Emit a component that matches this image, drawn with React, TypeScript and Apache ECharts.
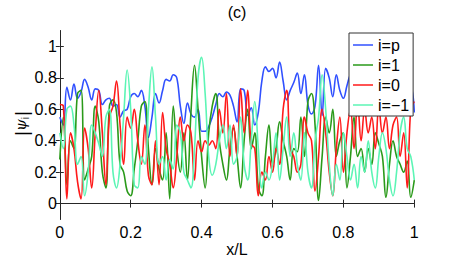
import React, { useEffect, useRef } from "react";
import * as echarts from "echarts";

const xSamples: number[] = Array.from({ length: 101 }, (_, i) => i / 100);

const psiP = [
  0.55, 0.5, 0.74, 0.66, 0.76, 0.67, 0.71, 0.79, 0.74, 0.66,
  0.73, 0.72, 0.63, 0.66, 0.67, 0.62, 0.63, 0.55, 0.59, 0.6,
  0.68, 0.7, 0.68, 0.72, 0.62, 0.42, 0.55, 0.7, 0.64, 0.72,
  0.79, 0.78, 0.82, 0.8, 0.62, 0.51, 0.64, 0.57, 0.55, 0.6,
  0.46, 0.46, 0.49, 0.55, 0.63, 0.7, 0.68, 0.71, 0.69, 0.62,
  0.52, 0.73, 0.72, 0.56, 0.61, 0.5, 0.58, 0.78, 0.87, 0.84,
  0.86, 0.8, 0.9, 0.78, 0.66, 0.72, 0.77, 0.83, 0.7, 0.82,
  0.63, 0.57, 0.62, 0.88, 0.56, 0.86, 0.8, 0.68, 0.82, 0.72,
  0.67, 0.75, 0.82, 0.7, 0.78, 0.8, 0.72, 0.78, 0.85, 0.75,
  0.72, 0.8, 0.76, 0.83, 0.74, 0.78, 0.84, 0.76, 0.72, 0.74,
  0.58,
];

const psi1 = [
  0.28, 0.55, 0.12, 0.4, 0.35, 0.7, 0.72, 0.15, 0.22, 0.3,
  0.62, 0.52, 0.2, 0.1, 0.62, 0.66, 0.58, 0.25, 0.2, 0.08,
  0.05, 0.22, 0.4, 0.62, 0.65, 0.35, 0.12, 0.35, 0.22, 0.15,
  0.45, 0.03, 0.62, 0.35, 0.2, 0.45, 0.15, 0.58, 0.88, 0.6,
  0.3, 0.1, 0.45, 0.62, 0.7, 0.4, 0.25, 0.15, 0.35, 0.48,
  0.3, 0.1, 0.4, 0.6, 0.35, 0.45, 0.1, 0.05, 0.3, 0.5,
  0.25, 0.35, 0.52, 0.4, 0.3, 0.15, 0.35, 0.33, 0.55, 0.3,
  0.65, 0.7, 0.5, 0.02, 0.3, 0.55, 0.45, 0.6, 0.3, 0.4,
  0.45, 0.1, 0.3, 0.55, 0.3, 0.35, 0.2, 0.35, 0.25, 0.45,
  0.38, 0.3, 0.04, 0.25, 0.4, 0.3, 0.25, 0.2, 0.27, 0.04,
  0.15,
];

const psi0 = [
  0.63, 0.62, 0.03, 0.45, 0.35, 0.14, 0.03, 0.48, 0.35, 0.1,
  0.45, 0.72, 0.45, 0.12, 0.55, 0.62, 0.78, 0.5, 0.25, 0.55,
  0.48, 0.6, 0.4, 0.25, 0.5, 0.18, 0.12, 0.4, 0.12, 0.58,
  0.35, 0.25, 0.1, 0.3, 0.55, 0.4, 0.5, 0.45, 0.15, 0.4,
  0.33, 0.4, 0.37, 0.4, 0.35, 0.6, 0.45, 0.7, 0.3, 0.5,
  0.3, 0.73, 0.45, 0.72, 0.38, 0.35, 0.05, 0.2, 0.15, 0.3,
  0.2, 0.35, 0.25, 0.6, 0.72, 0.35, 0.3, 0.2, 0.25, 0.55,
  0.45, 0.4, 0.08, 0.3, 0.6, 0.45, 0.2, 0.05, 0.35, 0.55,
  0.2, 0.45, 0.6, 0.35, 0.65, 0.4, 0.6, 0.45, 0.55, 0.35,
  0.62, 0.45, 0.55, 0.35, 0.5, 0.55, 0.3, 0.45, 0.1, 0.6,
  0.65,
];

const psiM1 = [
  0.45, 0.35, 0.6, 0.62, 0.5, 0.25, 0.3, 0.05, 0.2, 0.5,
  0.45, 0.38, 0.3, 0.55, 0.6, 0.2, 0.1, 0.25, 0.55, 0.85,
  0.6, 0.12, 0.1, 0.3, 0.25, 0.6, 0.87, 0.55, 0.25, 0.3,
  0.15, 0.28, 0.22, 0.5, 0.45, 0.2, 0.15, 0.1, 0.35, 0.8,
  0.93, 0.7, 0.3, 0.18, 0.25, 0.4, 0.5, 0.35, 0.5, 0.25,
  0.3, 0.55, 0.25, 0.15, 0.4, 0.65, 0.35, 0.1, 0.2, 0.15,
  0.25, 0.45, 0.15, 0.35, 0.55, 0.3, 0.45, 0.25, 0.15, 0.45,
  0.2, 0.1, 0.4, 0.55, 0.82, 0.6, 0.25, 0.05, 0.25, 0.15,
  0.45, 0.3, 0.15, 0.25, 0.1, 0.3, 0.2, 0.4, 0.2, 0.1,
  0.3, 0.45, 0.35, 0.15, 0.05, 0.2, 0.45, 0.55, 0.35, 0.3,
  0.15,
];

const seriesNames = ["i=p", "i=1", "i=0", "i=\u22121"];
const seriesColors = ["#3050FF", "#2A9A1A", "#FF1A1A", "#5CF5B5"];
const yTicks = [0, 0.2, 0.4, 0.6, 0.8, 1];

const FONT = "Liberation Sans, Arial, sans-serif";
const LINE_ICON = "path://M0,0L20,0L20,1.5L0,1.5Z";

export default function App() {
  const ref = useRef<HTMLDivElement>(null);
  useEffect(() => {
    if (!ref.current) return;
    const chart = echarts.init(ref.current, null, { renderer: "svg" });
    const all = [psiP, psi1, psi0, psiM1];
    const axisLine = { show: true, lineStyle: { color: "#262626", width: 1 } };
    const tick = { show: true, inside: true, length: 4, lineStyle: { color: "#262626", width: 1 } };
    chart.setOption({
      animation: false,
      backgroundColor: "#ffffff",
      grid: { left: 59.8, right: 42.7, top: 30.7, bottom: 38.7, containLabel: false },
      xAxis: [
        {
          type: "value", min: 0, max: 1, interval: 0.2, position: "bottom",
          axisLine, axisTick: tick, splitLine: { show: false },
          axisLabel: { color: "#000", fontSize: 16, fontFamily: FONT, margin: 5 },
        },
        {
          type: "value", min: 0, max: 1, interval: 0.2, position: "top",
          axisLine, axisTick: tick, splitLine: { show: false }, axisLabel: { show: false },
        },
      ],
      yAxis: [
        {
          type: "value", min: -0.1, max: 1.1, position: "left",
          axisLine, axisTick: { ...tick, customValues: yTicks }, splitLine: { show: false },
          axisLabel: { color: "#000", fontSize: 16, fontFamily: FONT, margin: 3, customValues: yTicks },
        },
        {
          type: "value", min: -0.1, max: 1.1, position: "right",
          axisLine, axisTick: { ...tick, customValues: yTicks }, splitLine: { show: false },
          axisLabel: { show: false },
        },
      ],
      legend: {
        orient: "vertical", left: 349, top: 33,
        padding: [4, 4, 3, 4],
        itemWidth: 20, itemHeight: 16, itemGap: 4,
        icon: LINE_ICON,
        backgroundColor: "#ffffff", borderColor: "#333333", borderWidth: 1,
        textStyle: { color: "#000", fontSize: 16, fontFamily: FONT },
        data: seriesNames,
      },
      series: all.map((vals, k) => ({
        name: seriesNames[k],
        type: "line",
        data: vals.map((v, i) => [xSamples[i], v]),
        symbol: "none",
        smooth: 0.4,
        color: seriesColors[k],
        lineStyle: { color: seriesColors[k], width: 1.6 },
        xAxisIndex: 0, yAxisIndex: 0,
        z: 2 + k * 0.01,
      })),
      graphic: [
        { type: "text", x: 237, y: 12.5, style: { text: "(c)", fontSize: 16, fontFamily: FONT, fill: "#000", align: "center", verticalAlign: "middle" } },
        { type: "text", x: 237, y: 249, style: { text: "x/L", fontSize: 16, fontFamily: FONT, fill: "#000", align: "center", verticalAlign: "middle" } },
        {
          type: "text", x: 21, y: 123.5, rotation: Math.PI / 2,
          style: {
            text: "{n||}{p|\u03c8}{s|i}{n||}",
            align: "center", verticalAlign: "middle",
            rich: {
              n: { fontSize: 19, fontFamily: FONT, fill: "#000" },
              p: { fontSize: 15, fontFamily: "DejaVu Serif", fontStyle: "italic", fill: "#000" },
              s: { fontSize: 10, fontFamily: FONT, fill: "#000", padding: [8, 1, 0, 0] },
            },
          },
        },
      ],
    });
    return () => chart.dispose();
  }, []);
  return <div ref={ref} style={{ width: 457, height: 258, position: "absolute", left: 0, top: 0 }} />;
}
